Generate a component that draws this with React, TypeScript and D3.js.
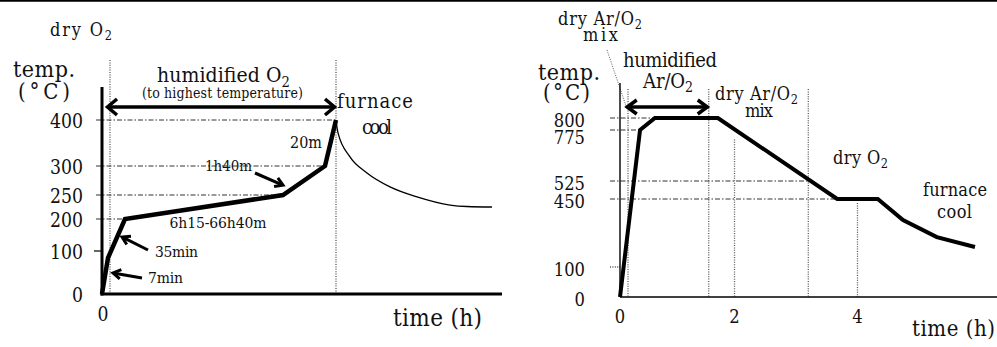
import React from "react";
import * as d3 from "d3";

const W = 997;
const H = 347;
const FONT = "DejaVu Serif Condensed, DejaVu Serif, serif";

// ---- Left panel: anneal in O2 (schematic progress units on the time axis) ----
const leftTempTicks = [0, 100, 200, 250, 300, 400];
const leftGuideTemps = [200, 250, 300, 400];
const leftHeating: [number, number][] = [
  [0, 0], [1.5, 84], [5.75, 200], [45.25, 250], [55.75, 300], [58.5, 400],
];
const leftCooling: [number, number][] = [
  [58.5, 400], [59, 372], [62, 320], [66.25, 288], [72, 264],
  [78.75, 246], [87, 229], [91.25, 226], [97.5, 225],
];
const leftStageTimes = [2, 58.5];
const leftHumidified = [1, 58.5];
const leftTimeTicks = [0];

// ---- Right panel: anneal in Ar/O2 then O2 (hours) ----
const rightTempTicks = [0, 100, 450, 525, 775, 800];
const rightTimeTicks = [0, 2, 4];
const rightProfile: [number, number][] = [
  [0, 0], [0.35, 775], [0.61, 800], [1.71, 800], [3.67, 450], [4.33, 450],
  [4.74, 342], [5.29, 254], [5.91, 203],
];
// [temperature, time where the guide meets the profile]
const rightGuides: [number, number][] = [[800, 0.61], [775, 0.35], [525, 3.2], [450, 3.67]];
const rightStageTimes = [0.14, 1.55, 3.2];
const rightCurveMarks = [2, 4];
const rightHumidified = [0.1, 1.55];

// Scales (both temperature axes are drawn schematically, not to a linear scale)
const xL = d3.scaleLinear().domain([0, 100]).range([102, 502]);
const yL = d3.scaleLinear().domain(leftTempTicks).range([294, 251, 219, 195, 166, 120]);
const xR = d3.scaleLinear().domain(rightTimeTicks).range([620, 734.5, 857.5]);
const yR = d3.scaleLinear().domain(rightTempTicks).range([297, 267, 199, 181, 130, 118]);

const interp = (profile: [number, number][], t: number) => {
  for (let i = 1; i < profile.length; i++) {
    const [t0, v0] = profile[i - 1];
    const [t1, v1] = profile[i];
    if (t >= t0 && t <= t1) return t1 === t0 ? v1 : v0 + ((t - t0) / (t1 - t0)) * (v1 - v0);
  }
  return profile[profile.length - 1][1];
};

const firstCrossing = (profile: [number, number][], v: number) => {
  for (let i = 1; i < profile.length; i++) {
    const [t0, v0] = profile[i - 1];
    const [t1, v1] = profile[i];
    if (v >= Math.min(v0, v1) && v <= Math.max(v0, v1) && v1 !== v0)
      return t0 + ((v - v0) / (v1 - v0)) * (t1 - t0);
  }
  return profile[profile.length - 1][0];
};

const DOT = { stroke: "#555", strokeWidth: 1.3, strokeDasharray: "1 1.4", fill: "none" };
const DASHDOT = { stroke: "#333", strokeWidth: 1, strokeDasharray: "5 2 1.5 2", fill: "none" };

type LabelProps = {
  x: number; y: number; size: number; width?: number; squeeze?: boolean;
  anchor?: "start" | "middle" | "end"; children: React.ReactNode;
};
const Label = ({ x, y, size, width, squeeze, anchor = "start", children }: LabelProps) => (
  <text
    x={x} y={y} fontSize={size} textAnchor={anchor}
    style={{ fontFamily: FONT }} fill="#111"
    textLength={width}
    lengthAdjust={width ? (squeeze ? "spacingAndGlyphs" : "spacing") : undefined}
  >
    {children}
  </text>
);

const Sub = ({ c }: { c: string }) => (
  <tspan baselineShift="-30%" fontSize="70%">{c}</tspan>
);

const DoubleArrow = ({ x0, x1, y, head, half, w }: { x0: number; x1: number; y: number; head: number; half: number; w: number }) => (
  <g stroke="#000" strokeWidth={w} fill="none" strokeLinejoin="miter">
    <line x1={x0 + 1} y1={y} x2={x1 - 1} y2={y} />
    <path d={`M${x0 + head},${y - half}L${x0 + 1.5},${y}L${x0 + head},${y + half}`} />
    <path d={`M${x1 - head},${y - half}L${x1 - 1.5},${y}L${x1 - head},${y + half}`} />
  </g>
);

const Pointer = ({ tip, tail }: { tip: [number, number]; tail: [number, number] }) => {
  const a = Math.atan2(tail[1] - tip[1], tail[0] - tip[0]);
  const L = 9, s = 0.55;
  const w1: [number, number] = [tip[0] + L * Math.cos(a + s), tip[1] + L * Math.sin(a + s)];
  const w2: [number, number] = [tip[0] + L * Math.cos(a - s), tip[1] + L * Math.sin(a - s)];
  return (
    <g stroke="#000" strokeWidth={3} fill="none">
      <line x1={tail[0]} y1={tail[1]} x2={tip[0] + Math.cos(a) * 1.5} y2={tip[1] + Math.sin(a) * 1.5} />
      <path d={`M${w1[0]},${w1[1]}L${tip[0]},${tip[1]}L${w2[0]},${w2[1]}`} />
    </g>
  );
};

export default function App() {
  const lineL = d3.line<[number, number]>().x((d) => xL(d[0])).y((d) => yL(d[1]));
  const coolL = d3.line<[number, number]>().x((d) => xL(d[0])).y((d) => yL(d[1])).curve(d3.curveMonotoneX);
  const lineR = d3.line<[number, number]>().x((d) => xR(d[0])).y((d) => yR(d[1]));

  const ptL = (t: number, v: number): [number, number] => [xL(t), yL(v)];

  return (
    <svg width={W} height={H} style={{ position: "absolute", left: 0, top: 0, background: "#fff" }}>
      <rect x={0} y={0} width={W} height={H} fill="#fff" />
      <line x1={0} y1={0.9} x2={W} y2={0.9} stroke="#000" strokeWidth={1.8} />

      {/* ================= Left panel ================= */}
      {leftStageTimes.map((t) => (
        <line key={t} x1={xL(t)} y1={60} x2={xL(t)} y2={yL(0)} {...DOT} />
      ))}
      {leftGuideTemps.map((v) => (
        <line key={v} x1={96} y1={yL(v)} x2={xL(firstCrossing(leftHeating, v))} y2={yL(v)} {...DASHDOT} />
      ))}
      <line x1={94} y1={yL(100)} x2={xL(0)} y2={yL(100)} stroke="#000" strokeWidth={1.2} />

      <line x1={xL(0)} y1={87} x2={xL(0)} y2={yL(0) + 1.5} stroke="#000" strokeWidth={3} />
      <line x1={xL(0) - 1.5} y1={yL(0)} x2={xL(100)} y2={yL(0)} stroke="#000" strokeWidth={3} />

      {leftTempTicks.map((v) => (
        <Label key={v} x={83} y={yL(v) + 7.5} size={21} anchor="end"
          width={String(v).length * 11} squeeze>{v}</Label>
      ))}
      {leftTimeTicks.map((t) => (
        <Label key={t} x={xL(t) + 1} y={321} size={21} anchor="middle" width={11} squeeze>{t}</Label>
      ))}

      <path d={coolL(leftCooling) ?? ""} stroke="#000" strokeWidth={1.3} fill="none" />
      <path d={lineL(leftHeating) ?? ""} stroke="#000" strokeWidth={4.5} fill="none" strokeLinejoin="miter" />

      <DoubleArrow x0={xL(leftHumidified[0])} x1={xL(leftHumidified[1])} y={107} head={11} half={8} w={3.5} />

      <Pointer tip={ptL(2.75, 49)} tail={[142, 278]} />
      <Label x={148} y={283} size={15.5} width={35}>7min</Label>
      <Pointer tip={ptL(5, 144)} tail={[148, 250]} />
      <Label x={155} y={257} size={15.5} width={43}>35min</Label>
      <Label x={xL(29)} y={yL(200) + 9} size={15.5} width={97} anchor="middle">6h15-66h40m</Label>
      <Pointer tip={ptL(45.25, 267)} tail={[255, 173]} />
      <Label x={205} y={171} size={15} width={47}>1h40m</Label>
      <Label x={xL(55)} y={148} size={16} width={32} anchor="end">20m</Label>

      <Label x={50} y={36} size={18} width={62}>dry O<Sub c="2" /></Label>
      <Label x={13} y={77} size={23} width={62}>temp.</Label>
      <Label x={18} y={99} size={22} width={52}>(°C)</Label>
      <Label x={157} y={82} size={21} width={133}>humidified O<Sub c="2" /></Label>
      <Label x={142} y={98} size={14} width={161}>(to highest temperature)</Label>
      <Label x={337} y={108} size={20} width={76}>furnace</Label>
      <Label x={362} y={134} size={20} width={30}>cool</Label>
      <Label x={393} y={326} size={24} width={89}>time (h)</Label>

      {/* ================= Right panel ================= */}
      {rightStageTimes.map((t) => (
        <line key={t} x1={xR(t)} y1={89} x2={xR(t)} y2={yR(0)} {...DOT} />
      ))}
      {rightCurveMarks.map((t) => (
        <line key={t} x1={xR(t)} y1={yR(interp(rightProfile, t)) + 4} x2={xR(t)} y2={yR(0)} {...DOT} />
      ))}
      {rightGuides.map(([v, t]) => (
        <line key={v} x1={610} y1={yR(v)} x2={xR(t)} y2={yR(v)} {...DASHDOT} />
      ))}
      <line x1={610} y1={yR(100)} x2={xR(0)} y2={yR(100)} {...DOT} />
      <line x1={607} y1={50} x2={626} y2={106} {...DOT} strokeWidth={1} />

      <line x1={xR(0)} y1={83} x2={xR(0)} y2={yR(0)} stroke="#000" strokeWidth={1.4} />
      <line x1={xR(0)} y1={yR(0)} x2={W} y2={yR(0)} stroke="#000" strokeWidth={1.4} />

      {(() => {
        // keep stacked tick labels from colliding
        let prev = -Infinity;
        return [...rightTempTicks].reverse().map((v) => {
          const y = Math.max(yR(v) + 2, prev + 17);
          prev = y;
          return (
            <Label key={v} x={585} y={y + 6.5} size={19} anchor="end"
              width={String(v).length * 10.4} squeeze>{v}</Label>
          );
        });
      })()}
      {rightTimeTicks.map((t) => (
        <Label key={t} x={xR(t)} y={323} size={19} anchor="middle" width={10.4} squeeze>{t}</Label>
      ))}

      <path d={lineR(rightProfile) ?? ""} stroke="#000" strokeWidth={4} fill="none" strokeLinejoin="miter" />

      <DoubleArrow x0={xR(rightHumidified[0])} x1={xR(rightHumidified[1])} y={107} head={11} half={7} w={3.5} />

      <Label x={558} y={25} size={18} width={84}>dry Ar/O<Sub c="2" /></Label>
      <Label x={583} y={41} size={18} width={35}>mix</Label>
      <Label x={538} y={80} size={23} width={62}>temp.</Label>
      <Label x={543} y={100} size={22} width={47}>(°C)</Label>
      <Label x={623} y={67} size={20} width={94}>humidified</Label>
      <Label x={643} y={88} size={20} width={50}>Ar/O<Sub c="2" /></Label>
      <Label x={715} y={100} size={18} width={83}>dry Ar/O<Sub c="2" /></Label>
      <Label x={745} y={117} size={18} width={28}>mix</Label>
      <Label x={833} y={164} size={18} width={55}>dry O<Sub c="2" /></Label>
      <Label x={923} y={196} size={18} width={64}>furnace</Label>
      <Label x={937} y={218} size={18} width={35}>cool</Label>
      <Label x={912} y={336} size={22} width={83}>time (h)</Label>
    </svg>
  );
}
